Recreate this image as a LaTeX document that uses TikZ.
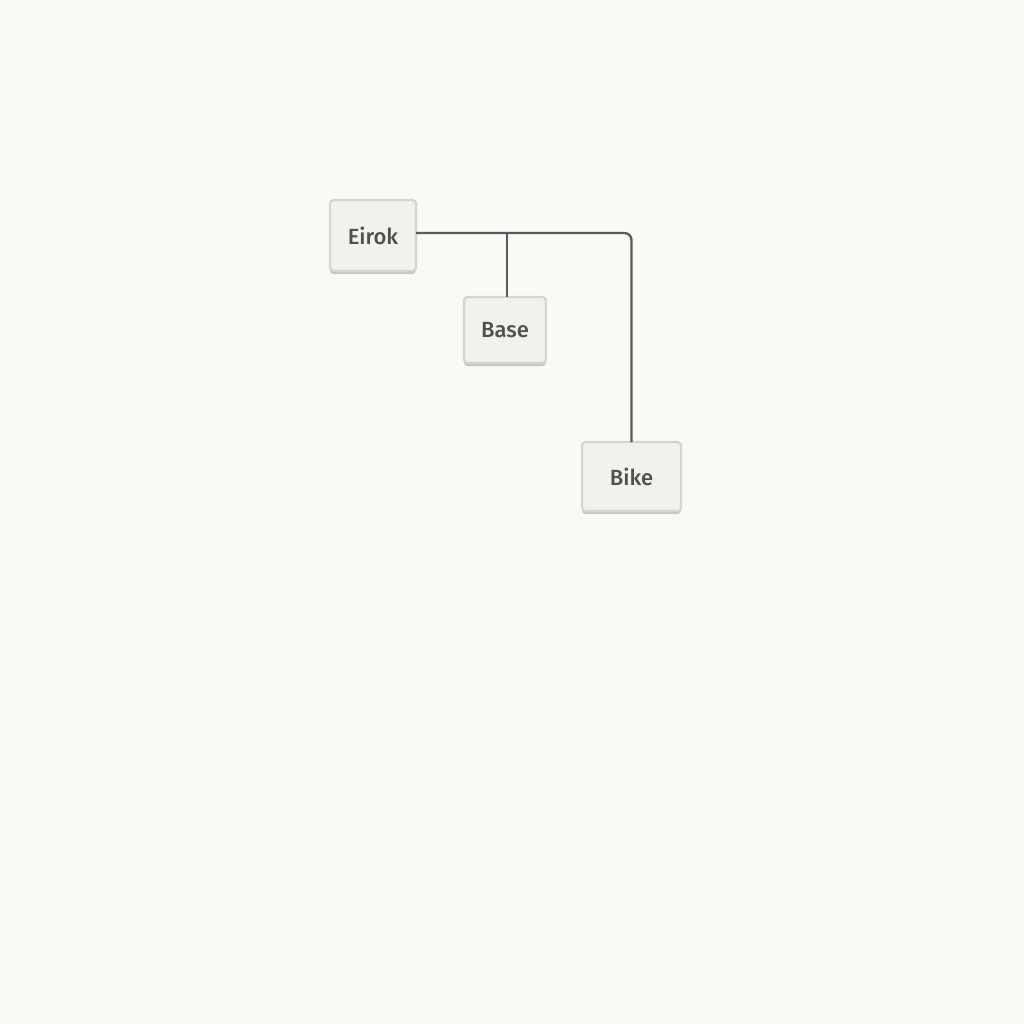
\documentclass[tikz,border=0pt]{standalone}
\usepackage{fontspec}
\setmainfont{Open Sans}
\newfontfamily\boxfont{Fira Sans}[UprightFont=* Medium]
\usetikzlibrary{positioning,shadows}
\definecolor{paper}{HTML}{F9FAF6}
\definecolor{boxfill}{HTML}{F2F1EC}
\definecolor{boxline}{HTML}{D6D4CF}
\definecolor{wire}{HTML}{5A5A5C}
\definecolor{label}{HTML}{505050}
\tikzset{
box/.style={draw=boxline, fill=boxfill, line width=1.2pt, rounded corners=2pt,
  inner sep=0pt, outer sep=0pt, text=label,
  font=\boxfont\fontsize{12.5}{15}\selectfont,
  drop shadow={shadow xshift=0pt, shadow yshift=-0.06cm, fill=black!30, opacity=0.7}},
link/.style={draw=wire, line width=1.3pt, rounded corners=4pt},
}

\begin{document}
\begin{tikzpicture}
    \fill[paper] (0,0) rectangle (20.48,-20.48);
    \useasboundingbox (0,0) rectangle (20.48,-20.48);

    \node[box, minimum width=1.72cm, minimum height=1.42cm] (eirok) at (7.46,-4.71) {Eirok};
    \node[box, minimum width=1.64cm, minimum height=1.32cm, below right=0.52cm and 0.96cm of eirok] (base) {Base};
    \node[box, minimum width=1.98cm, minimum height=1.38cm, below right=1.58cm and 0.72cm of base] (bike) {Bike};

    \coordinate (tap) at ([yshift=0.05cm]eirok.east);
    \coordinate (basetop) at ([xshift=0.04cm]base.north);

    \draw[link] (tap) -| (bike.north);
    \draw[link] (basetop) -- (basetop |- tap);

\end{tikzpicture}
\end{document}
